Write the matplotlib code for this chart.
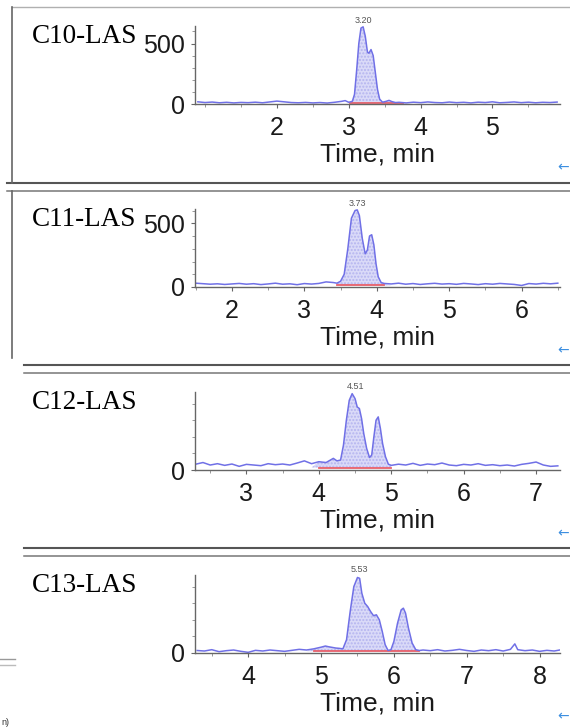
import matplotlib
matplotlib.use('Agg')  # no display
import matplotlib.pyplot as plt
from matplotlib.lines import Line2D
from matplotlib.ticker import MultipleLocator
import numpy as np

plt.rcParams['font.family'] = ['Liberation Sans', 'DejaVu Sans']

W, H = 570, 728

names = ['C10-LAS', 'C11-LAS', 'C12-LAS', 'C13-LAS']
peak_rt = [3.20, 3.73, 4.51, 5.53]

t_c10 = [0.90, 1.00, 1.10, 1.20, 1.30, 1.40, 1.50, 1.60, 1.70, 1.80,
         1.90, 2.00, 2.10, 2.20, 2.30, 2.40, 2.50, 2.60, 2.70, 2.80,
         2.90, 2.95, 3.00, 3.05, 3.08, 3.11, 3.14, 3.17, 3.20, 3.23,
         3.26, 3.28, 3.31, 3.34, 3.37, 3.40, 3.43, 3.47, 3.52, 3.56,
         3.60, 3.65, 3.70, 3.80, 3.90, 4.00, 4.10, 4.20, 4.30, 4.40,
         4.50, 4.60, 4.70, 4.80, 4.90, 5.00, 5.10, 5.20, 5.30, 5.40,
         5.50, 5.60, 5.70, 5.80, 5.90]
y_c10 = [18, 12, 16, 10, 14, 9, 13, 11, 15, 10,
         17, 24, 18, 12, 10, 13, 9, 12, 8, 14,
         22, 28, 14, 22, 80, 280, 500, 628, 638, 560,
         430, 420, 450, 400, 260, 120, 40, 15, 22, 30,
         20, 12, 14, 9, 15, 11, 17, 12, 10, 16,
         11, 14, 9, 15, 12, 18, 10, 13, 17, 11,
         15, 10, 14, 12, 16]

t_c11 = [1.50, 1.60, 1.70, 1.80, 1.90, 2.00, 2.10, 2.20, 2.30, 2.40,
         2.50, 2.60, 2.70, 2.80, 2.90, 3.00, 3.10, 3.20, 3.30, 3.40,
         3.45, 3.50, 3.55, 3.60, 3.65, 3.70, 3.73, 3.76, 3.80, 3.84,
         3.87, 3.90, 3.93, 3.96, 3.99, 4.02, 4.06, 4.10, 4.20, 4.30,
         4.40, 4.50, 4.60, 4.70, 4.80, 4.90, 5.00, 5.10, 5.20, 5.30,
         5.40, 5.50, 5.60, 5.70, 5.80, 5.90, 6.00, 6.10, 6.20, 6.30,
         6.40, 6.50]
y_c11 = [30, 26, 22, 25, 20, 24, 28, 22, 26, 19,
         24, 30, 22, 25, 18, 27, 23, 28, 40, 35,
         30, 45, 100, 300, 540, 600, 605, 560, 380, 260,
         290, 400, 410, 330, 180, 80, 35, 28, 24, 30,
         22, 27, 20, 25, 29, 23, 26, 21, 28, 24,
         19, 26, 22, 28, 24, 20, 12, 27, 23, 29,
         25, 30]

t_c12 = [2.30, 2.40, 2.50, 2.60, 2.70, 2.80, 2.90, 3.00, 3.10, 3.20,
         3.30, 3.40, 3.50, 3.60, 3.70, 3.80, 3.90, 4.00, 4.10, 4.20,
         4.25, 4.30, 4.34, 4.38, 4.42, 4.46, 4.50, 4.53, 4.56, 4.59,
         4.62, 4.66, 4.70, 4.73, 4.76, 4.79, 4.82, 4.85, 4.88, 4.92,
         4.96, 5.00, 5.10, 5.20, 5.30, 5.40, 5.50, 5.60, 5.70, 5.80,
         5.90, 6.00, 6.10, 6.20, 6.30, 6.40, 6.50, 6.60, 6.70, 6.80,
         6.90, 7.00, 7.10, 7.20, 7.30]
y_c12 = [35, 45, 30, 38, 28, 36, 22, 34, 30, 26,
         38, 32, 36, 30, 42, 55, 38, 50, 45, 70,
         55, 60, 150, 300, 420, 460, 430, 380, 370, 310,
         220, 130, 75, 90, 200, 300, 320, 250, 160, 80,
         35, 28, 35, 30, 40, 28, 36, 32, 42, 30,
         26, 34, 30, 38, 28, 32, 26, 30, 24, 34,
         40, 48, 30, 22, 25]

t_c13 = [3.30, 3.40, 3.50, 3.60, 3.70, 3.80, 3.90, 4.00, 4.10, 4.20,
         4.30, 4.40, 4.50, 4.60, 4.70, 4.80, 4.90, 5.00, 5.06, 5.10,
         5.20, 5.25, 5.30, 5.35, 5.40, 5.45, 5.50, 5.53, 5.56, 5.60,
         5.64, 5.68, 5.72, 5.76, 5.80, 5.84, 5.88, 5.92, 5.96, 6.00,
         6.05, 6.10, 6.13, 6.16, 6.20, 6.25, 6.30, 6.35, 6.40, 6.50,
         6.60, 6.70, 6.80, 6.90, 7.00, 7.10, 7.20, 7.30, 7.40, 7.50,
         7.60, 7.66, 7.70, 7.80, 7.90, 8.00, 8.10, 8.20, 8.30]
y_c13 = [15, 12, 20, 8, 14, 18, 10, 4, 16, 12,
         18, 14, 10, 16, 22, 18, 25, 35, 42, 38,
         30, 28, 25, 80, 250, 400, 455, 450, 360, 300,
         280, 250, 225, 230, 200, 130, 50, 15, 20, 70,
         180, 260, 270, 240, 150, 60, 20, 15, 18, 14,
         20, 12, 16, 22, 15, 10, 18, 14, 20, 12,
         22, 55, 20, 14, 18, 10, 16, 12, 20]

times = [t_c10, t_c11, t_c12, t_c13]
signals = [y_c10, y_c11, y_c12, y_c13]

# integration window and baseline level for each peak
integ_start = [3.02, 3.45, 4.00, 4.90]
integ_end = [3.75, 4.10, 5.00, 6.35]
base_level = [8, 12, 15, 10]

xlims = [(0.86, 5.94), (1.49, 6.53), (2.29, 7.33), (3.27, 8.28)]
xticks = [[2, 3, 4, 5], [2, 3, 4, 5, 6], [3, 4, 5, 6, 7], [4, 5, 6, 7, 8]]
ytops = [645, 612, 470, 470]

step = 183  # panel spacing in pixels

fig = plt.figure(figsize=(W / 100, H / 100), dpi=100)
fig.patch.set_facecolor('white')

for k in range(4):
    ax = fig.add_axes([195 / W, 1 - (104 + step * k) / H, 365 / W, 78 / H])
    t = np.array(times[k])
    y = np.array(signals[k])
    lo, hi = integ_start[k], integ_end[k]
    base = base_level[k]
    m = (t >= lo) & (t <= hi)
    ax.fill_between(t, base, y, where=m, interpolate=True,
                    facecolor='#dadaf8', edgecolor='#b4b4ef', hatch='.....', linewidth=0)
    ax.plot([lo, hi], [base, base], color='#e8606a', lw=1.3)
    ax.plot(t, y, color='#7070e6', lw=1.1)

    ax.annotate(f'{peak_rt[k]:.2f}', xy=(peak_rt[k], 1), xycoords=('data', 'axes fraction'),
                xytext=(0, 1), textcoords='offset points', ha='center', va='bottom',
                fontsize=6.5, color='#555555', annotation_clip=False)

    ax.set_xlim(*xlims[k])
    ax.set_ylim(0, ytops[k])
    ax.set_xticks(xticks[k])
    ax.set_yticks([0, 500] if ytops[k] > 500 else [0])
    ax.yaxis.set_minor_locator(MultipleLocator(100))
    ax.xaxis.set_minor_locator(MultipleLocator(0.5))

    for s in ['top', 'right']:
        ax.spines[s].set_visible(False)
    for s in ['left', 'bottom']:
        ax.spines[s].set_color('#666666')
        ax.spines[s].set_linewidth(1)
    ax.tick_params(axis='x', which='major', length=3, pad=5.5, labelsize=18,
                   color='#666666', labelcolor='#1a1a1a')
    ax.tick_params(axis='y', which='major', length=3, pad=4, labelsize=18,
                   color='#666666', labelcolor='#1a1a1a')
    ax.tick_params(which='minor', length=2, color='#888888')
    ax.set_xlabel('Time, min', fontsize=19, color='#1a1a1a', labelpad=2)
    ax.patch.set_alpha(0)

    fig.text(32 / W, 1 - (43 + step * k) / H, names[k], family='Liberation Serif',
             fontsize=19.5, color='black', va='baseline', ha='left')

    # small blue arrow at the right edge
    fig.text(569 / W, 1 - (167 + step * k) / H, '\u2190', fontsize=10,
             family='DejaVu Sans', color='#3d8fe0', ha='right', va='center')

# frame lines of the pasted panels
def hline(y, x0, x1, color, lw):
    fig.add_artist(Line2D([x0 / W, x1 / W], [1 - y / H, 1 - y / H], color=color, lw=lw))

def vline(x, y0, y1, color, lw):
    fig.add_artist(Line2D([x / W, x / W], [1 - y0 / H, 1 - y1 / H], color=color, lw=lw))

hline(7, 12, 570, '#b0b0b0', 1)
sep_top = [183, 365, 548]
sep_bot = [190.5, 373, 556]
sep_x0 = [7, 24, 24]
for a, b, x0 in zip(sep_top, sep_bot, sep_x0):
    hline(a, x0, 570, '#555555', 1.5)
    hline(b, x0, 570, '#777777', 1.1)
vline(12, 7, 183, '#666666', 1.2)
vline(12, 190.5, 358, '#666666', 1.2)

# leftover bits of a neighbouring figure
hline(659, 0, 15, '#999999', 1)
hline(665, 0, 15, '#bbbbbb', 1)
fig.text(1 / W, 1 - 725 / H, 'n)', fontsize=6.5, color='#333333', ha='left', va='baseline')

fig.savefig('out.png', dpi=100, facecolor='white')
plt.close(fig)
